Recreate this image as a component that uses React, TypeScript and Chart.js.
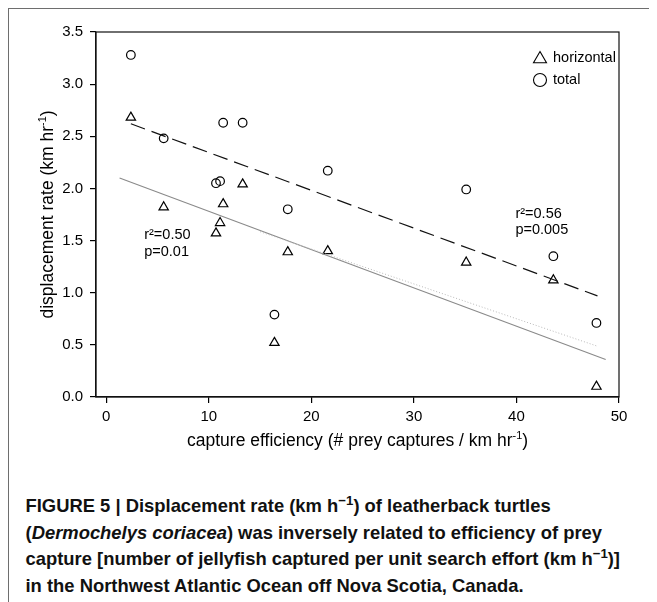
import React, { useEffect, useRef } from 'react';
import { Chart, registerables } from 'chart.js';
import { drawPoint } from 'chart.js/helpers';

Chart.register(...registerables);

// ---------- data ----------
const efficiency = [2.4, 5.6, 10.7, 11.1, 11.4, 13.3, 16.4, 17.7, 21.6, 35.1, 43.6, 47.8];
const totalRate = [3.28, 2.48, 2.05, 2.07, 2.63, 2.63, 0.79, 1.80, 2.17, 1.99, 1.35, 0.71];
const horizontalRate = [2.68, 1.82, 1.57, 1.67, 1.85, 2.04, 0.52, 1.39, 1.40, 1.29, 1.12, 0.10];

const totalFitX = [2.4, 47.9];
const totalFitY = [2.62, 0.97];
const horizontalFitX = [1.3, 48.7];
const horizontalFitY = [2.10, 0.36];
const dottedFitX = [15.0, 47.8];
const dottedFitY = [1.585, 0.49];

const xTicks = [0, 10, 20, 30, 40, 50];
const yTicks = [0, 0.5, 1.0, 1.5, 2.0, 2.5, 3.0, 3.5];

const seriesLabels = ['horizontal', 'total'];
const statsHorizontal = ['r²=0.50', 'p=0.01'];
const statsTotal = ['r²=0.56', 'p=0.005'];

// ---------- layout / style ----------
const FONT = '"Liberation Sans", Arial, Helvetica, sans-serif';
const statAnchors = [
  { lines: statsHorizontal, x: 3.7, y: 1.55 },
  { lines: statsTotal, x: 39.9, y: 1.755 },
];

type Part = { text: string; sup?: boolean };

function drawRich(ctx: CanvasRenderingContext2D, parts: Part[], cx: number, baseline: number, size: number) {
  const supSize = size * 0.62;
  let total = 0;
  parts.forEach((p) => {
    ctx.font = `${p.sup ? supSize : size}px ${FONT}`;
    total += ctx.measureText(p.text).width;
  });
  let x = cx - total / 2;
  ctx.textAlign = 'left';
  ctx.textBaseline = 'alphabetic';
  parts.forEach((p) => {
    ctx.font = `${p.sup ? supSize : size}px ${FONT}`;
    ctx.fillText(p.text, x, p.sup ? baseline - size * 0.42 : baseline);
    x += ctx.measureText(p.text).width;
  });
}

const decorPlugin = {
  id: 'decor',
  afterDraw(chart: any) {
    const { ctx, chartArea } = chart;
    const xs = chart.scales.x;
    const ys = chart.scales.y;
    ctx.save();
    // frame (top and right)
    ctx.strokeStyle = '#111';
    ctx.lineWidth = 1.2;
    ctx.strokeRect(chartArea.left, chartArea.top, chartArea.right - chartArea.left, chartArea.bottom - chartArea.top);

    ctx.fillStyle = '#000';
    // axis titles
    const midX = (chartArea.left + chartArea.right) / 2;
    drawRich(ctx, [
      { text: 'capture efficiency (# prey captures / km hr' },
      { text: '-1', sup: true },
      { text: ')' },
    ], midX, 438, 17.5);

    const midY = (chartArea.top + chartArea.bottom) / 2;
    ctx.save();
    ctx.translate(45, midY);
    ctx.rotate(-Math.PI / 2);
    drawRich(ctx, [
      { text: 'displacement rate (km hr' },
      { text: '-1', sup: true },
      { text: ')' },
    ], 0, 0, 17.5);
    ctx.restore();

    // regression statistics
    ctx.font = `14.5px ${FONT}`;
    ctx.textAlign = 'left';
    ctx.textBaseline = 'middle';
    statAnchors.forEach((a) => {
      const px = xs.getPixelForValue(a.x);
      const py = ys.getPixelForValue(a.y);
      a.lines.forEach((t, i) => ctx.fillText(t, px, py + i * 16.5));
    });

    // legend
    const styles = ['triangle', 'circle'];
    const radii = [7.5, 6.5];
    const lx = chartArea.right - 79;
    seriesLabels.forEach((label, i) => {
      const ly = chartArea.top + 25.5 + i * 22.5;
      ctx.strokeStyle = '#000';
      ctx.fillStyle = 'rgba(0,0,0,0)';
      ctx.lineWidth = 1.1;
      drawPoint(ctx, { pointStyle: styles[i], radius: radii[i], borderWidth: 1.1, rotation: 0 } as any, lx, ly + (i === 0 ? 1.5 : 0));
      ctx.fillStyle = '#000';
      ctx.font = `14.5px ${FONT}`;
      ctx.textBaseline = 'middle';
      ctx.fillText(label, lx + 13, ly);
    });
    ctx.restore();
  },
};

function toPoints(xs: number[], ys: number[]) {
  return xs.map((x, i) => ({ x, y: ys[i] }));
}

export default function App() {
  const ref = useRef<HTMLCanvasElement>(null);

  useEffect(() => {
    if (!ref.current) return;
    const tickFont = { family: FONT, size: 15 };
    const chart = new Chart(ref.current, {
      type: 'scatter',
      data: {
        datasets: [
          {
            label: 'dotted fit',
            data: toPoints(dottedFitX, dottedFitY),
            showLine: true,
            borderColor: '#b8b8b8',
            borderWidth: 1,
            borderDash: [1, 2],
            pointRadius: 0,
          },
          {
            label: 'horizontal fit',
            data: toPoints(horizontalFitX, horizontalFitY),
            showLine: true,
            borderColor: '#8a8a8a',
            borderWidth: 1.1,
            pointRadius: 0,
          },
          {
            label: 'total fit',
            data: toPoints(totalFitX, totalFitY),
            showLine: true,
            borderColor: '#111',
            borderWidth: 1.2,
            borderDash: [15, 7],
            pointRadius: 0,
          },
          {
            label: seriesLabels[0],
            data: toPoints(efficiency, horizontalRate),
            pointStyle: 'triangle',
            pointRadius: 5.4,
            borderColor: '#000',
            borderWidth: 1.2,
            backgroundColor: 'rgba(0,0,0,0)',
          },
          {
            label: seriesLabels[1],
            data: toPoints(efficiency, totalRate),
            pointStyle: 'circle',
            pointRadius: 4.3,
            borderColor: '#000',
            borderWidth: 1.2,
            backgroundColor: 'rgba(0,0,0,0)',
          },
        ],
      },
      options: {
        animation: false,
        responsive: false,
        maintainAspectRatio: false,
        layout: { padding: { top: 24, right: 38, left: 0, bottom: 0 } },
        plugins: {
          legend: { display: false },
          tooltip: { enabled: false },
          title: { display: false },
        },
        scales: {
          x: {
            type: 'linear',
            min: -1,
            max: 50,
            afterBuildTicks: (s: any) => {
              s.ticks = xTicks.map((v) => ({ value: v }));
            },
            afterFit: (s: any) => {
              s.height = 81;
            },
            grid: { drawOnChartArea: false, drawTicks: true, tickLength: 6, color: '#000', lineWidth: 1.2 },
            border: { display: true, color: '#111', width: 1.2 },
            ticks: { color: '#000', font: tickFont, padding: 5, maxRotation: 0, autoSkip: false },
          },
          y: {
            type: 'linear',
            min: 0,
            max: 3.5,
            afterBuildTicks: (s: any) => {
              s.ticks = yTicks.map((v) => ({ value: v }));
            },
            afterFit: (s: any) => {
              s.width = 88;
            },
            grid: { drawOnChartArea: false, drawTicks: true, tickLength: 6, color: '#000', lineWidth: 1.2 },
            border: { display: true, color: '#111', width: 1.2 },
            ticks: {
              color: '#000',
              font: tickFont,
              padding: 7,
              autoSkip: false,
              callback: (v: any) => Number(v).toFixed(1),
            },
          },
        },
      },
      plugins: [decorPlugin],
    } as any);
    return () => chart.destroy();
  }, []);

  const sup = (t: string) => (
    <span style={{ fontSize: '0.72em', position: 'relative', top: '-0.5em', lineHeight: 0 }}>{t}</span>
  );

  return (
    <div style={{ position: 'relative', width: 649, height: 594 }}>
      <div
        style={{
          position: 'absolute',
          left: -1,
          top: -1,
          width: 650,
          height: 595,
          borderTop: '2px solid #6e6e6e',
          borderLeft: '2px solid #6e6e6e',
          boxSizing: 'border-box',
        }}
      />
      <canvas ref={ref} width={649} height={470} style={{ position: 'absolute', left: 0, top: 0, width: 649, height: 470 }} />
      <div
        style={{
          position: 'absolute',
          left: 17.5,
          top: 485,
          fontFamily: FONT,
          fontWeight: 'bold',
          fontSize: 18.4,
          lineHeight: '26.5px',
          color: '#111',
          whiteSpace: 'nowrap',
        }}
      >
        FIGURE 5 | Displacement rate (km h{sup('−1')}) of leatherback turtles
        <br />
        (<i>Dermochelys coriacea</i>) was inversely related to efficiency of prey
        <br />
        capture [number of jellyfish captured per unit search effort (km h{sup('−1')})]
        <br />
        in the Northwest Atlantic Ocean off Nova Scotia, Canada.
      </div>
    </div>
  );
}
